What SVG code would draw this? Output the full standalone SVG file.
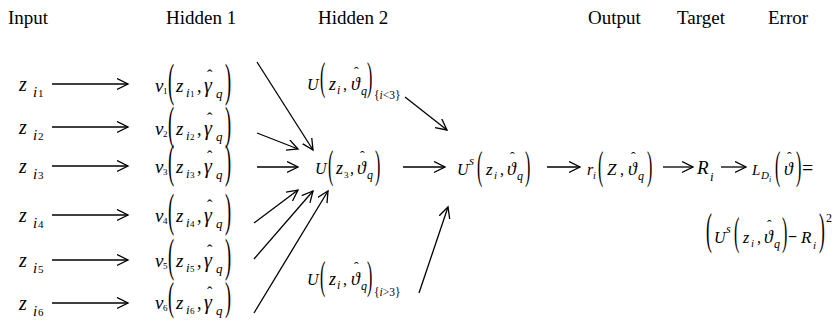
<svg xmlns="http://www.w3.org/2000/svg" width="835" height="321" viewBox="0 0 835 321" font-family="'Liberation Serif', 'DejaVu Serif', serif">
<defs>
<style>
text{font-family:'Liberation Serif','DejaVu Serif',serif;fill:#000}
.h{font-size:19px}
.m{font-style:italic}
.s{font-style:italic;font-size:13px}
.d{font-size:9px}
.pb{font-size:46px}
.pm{font-size:40px}
.c{stroke:#000;stroke-width:1.3;fill:none}
</style>
<marker id="ah" markerUnits="userSpaceOnUse" markerWidth="14" markerHeight="14" refX="11" refY="6" orient="auto">
<path d="M0,0.5 L11,6 L0,11.5" fill="none" stroke="#000" stroke-width="1.3"/>
</marker>
</defs>
<rect width="835" height="321" fill="#fff"/>
<g id="headers" class="h">
<text x="8" y="24">Input</text>
<text x="166" y="24">Hidden 1</text>
<text x="318" y="24">Hidden 2</text>
<text x="588" y="24">Output</text>
<text x="677" y="24">Target</text>
<text x="768" y="24">Error</text>
</g>
<g id="inputs">
<g id="in1" transform="translate(0,91)"><text x="19" class="m" font-size="20">z</text><text x="33" y="6" class="m" font-size="15">i</text><text x="38" y="6" font-size="11">1</text></g>
<g id="in2" transform="translate(0,134)"><text x="19" class="m" font-size="20">z</text><text x="33" y="6" class="m" font-size="15">i</text><text x="38" y="6" font-size="11">2</text></g>
<g id="in3" transform="translate(0,173)"><text x="19" class="m" font-size="20">z</text><text x="33" y="6" class="m" font-size="15">i</text><text x="38" y="6" font-size="11">3</text></g>
<g id="in4" transform="translate(0,222)"><text x="19" class="m" font-size="20">z</text><text x="33" y="6" class="m" font-size="15">i</text><text x="38" y="6" font-size="11">4</text></g>
<g id="in5" transform="translate(0,267)"><text x="19" class="m" font-size="20">z</text><text x="33" y="6" class="m" font-size="15">i</text><text x="38" y="6" font-size="11">5</text></g>
<g id="in6" transform="translate(0,310)"><text x="19" class="m" font-size="20">z</text><text x="33" y="6" class="m" font-size="15">i</text><text x="38" y="6" font-size="11">6</text></g>
</g>
<g id="hidden1">
<g id="v1" transform="translate(0,92)"><text x="155" class="m" font-size="19">v</text><text x="163" y="2" class="d">1</text><text class="pb" transform="translate(168,4) scale(0.4,1)">(</text><text x="176" class="m" font-size="19">z</text><text x="186" y="5" class="s">i</text><text x="190" y="5" class="d">1</text><text x="197" font-size="18">,</text><text x="204" class="m" font-size="20">γ</text><text x="207" y="-11" font-size="16">ˆ</text><text x="216" y="6" class="s">q</text><text class="pb" transform="translate(225,4) scale(0.4,1)">)</text></g>
<g id="v2" transform="translate(0,135)"><text x="155" class="m" font-size="19">v</text><text x="163" y="2" class="d">2</text><text class="pb" transform="translate(168,4) scale(0.4,1)">(</text><text x="176" class="m" font-size="19">z</text><text x="186" y="5" class="s">i</text><text x="190" y="5" class="d">2</text><text x="197" font-size="18">,</text><text x="204" class="m" font-size="20">γ</text><text x="207" y="-11" font-size="16">ˆ</text><text x="216" y="6" class="s">q</text><text class="pb" transform="translate(225,4) scale(0.4,1)">)</text></g>
<g id="v3" transform="translate(0,173)"><text x="155" class="m" font-size="19">v</text><text x="163" y="2" class="d">3</text><text class="pb" transform="translate(168,4) scale(0.4,1)">(</text><text x="176" class="m" font-size="19">z</text><text x="186" y="5" class="s">i</text><text x="190" y="5" class="d">3</text><text x="197" font-size="18">,</text><text x="204" class="m" font-size="20">γ</text><text x="207" y="-11" font-size="16">ˆ</text><text x="216" y="6" class="s">q</text><text class="pb" transform="translate(225,4) scale(0.4,1)">)</text></g>
<g id="v4" transform="translate(0,222)"><text x="155" class="m" font-size="19">v</text><text x="163" y="2" class="d">4</text><text class="pb" transform="translate(168,4) scale(0.4,1)">(</text><text x="176" class="m" font-size="19">z</text><text x="186" y="5" class="s">i</text><text x="190" y="5" class="d">4</text><text x="197" font-size="18">,</text><text x="204" class="m" font-size="20">γ</text><text x="207" y="-11" font-size="16">ˆ</text><text x="216" y="6" class="s">q</text><text class="pb" transform="translate(225,4) scale(0.4,1)">)</text></g>
<g id="v5" transform="translate(0,267)"><text x="155" class="m" font-size="19">v</text><text x="163" y="2" class="d">5</text><text class="pb" transform="translate(168,4) scale(0.4,1)">(</text><text x="176" class="m" font-size="19">z</text><text x="186" y="5" class="s">i</text><text x="190" y="5" class="d">5</text><text x="197" font-size="18">,</text><text x="204" class="m" font-size="20">γ</text><text x="207" y="-11" font-size="16">ˆ</text><text x="216" y="6" class="s">q</text><text class="pb" transform="translate(225,4) scale(0.4,1)">)</text></g>
<g id="v6" transform="translate(0,309)"><text x="155" class="m" font-size="19">v</text><text x="163" y="2" class="d">6</text><text font-size="40" transform="translate(168,1) scale(0.45,1)">(</text><text x="176" class="m" font-size="19">z</text><text x="186" y="5" class="s">i</text><text x="190" y="5" class="d">6</text><text x="197" font-size="18">,</text><text x="204" class="m" font-size="20">γ</text><text x="207" y="-11" font-size="16">ˆ</text><text x="216" y="6" class="s">q</text><text font-size="40" transform="translate(225,1) scale(0.45,1)">)</text></g>
</g>
<g id="hidden2">
<g id="u3" transform="translate(0,174)"><text x="315" class="m" font-size="16">U</text><text class="pm" transform="translate(328,3.5) scale(0.4,1)">(</text><text x="336" class="m" font-size="18">z</text><text x="344" y="4" class="d">3</text><text x="350" font-size="16">,</text><text x="357" class="m" font-size="18">ϑ</text><text x="360" y="-13" font-size="14">ˆ</text><text x="367" y="5" class="m" font-size="12">q</text><text class="pm" transform="translate(375,3.5) scale(0.4,1)">)</text></g>
<g id="ulow" transform="translate(0,90)"><text x="307" class="m" font-size="16">U</text><text class="pm" transform="translate(320,0) scale(0.4,1)">(</text><text x="329" class="m" font-size="18">z</text><text x="337" y="4" class="m" font-size="12">i</text><text x="343" font-size="16">,</text><text x="351" class="m" font-size="18">ϑ</text><text x="354" y="-13" font-size="14">ˆ</text><text x="361" y="5" class="m" font-size="12">q</text><text class="pm" transform="translate(367,0) scale(0.4,1)">)</text><text x="374" y="9" font-size="11.5" fill="#444">{<tspan font-style="italic">i</tspan>&lt;3}</text></g>
<g id="uhigh" transform="translate(0,285)"><text x="307" class="m" font-size="16">U</text><text class="pm" transform="translate(320,4) scale(0.4,1)">(</text><text x="329" class="m" font-size="18">z</text><text x="337" y="4" class="m" font-size="12">i</text><text x="343" font-size="16">,</text><text x="351" class="m" font-size="18">ϑ</text><text x="354" y="-13" font-size="14">ˆ</text><text x="361" y="5" class="m" font-size="12">q</text><text class="pm" transform="translate(367,4) scale(0.4,1)">)</text><text x="374" y="11" font-size="11.5" fill="#444">{<tspan font-style="italic">i</tspan>&gt;3}</text></g>
</g>
<g id="output">
<g id="us" transform="translate(0,175)"><text x="457" class="m" font-size="16">U</text><text x="469" y="-10" class="m" font-size="13">s</text><text class="pm" transform="translate(477,3.5) scale(0.4,1)">(</text><text x="486" class="m" font-size="17">z</text><text x="494" y="4" class="m" font-size="11">i</text><text x="500" font-size="16">,</text><text x="507" class="m" font-size="18">ϑ</text><text x="510" y="-13" font-size="14">ˆ</text><text x="517" y="5" class="m" font-size="12">q</text><text class="pm" transform="translate(525,3.5) scale(0.4,1)">)</text></g>
<g id="ri" transform="translate(0,175)"><text x="587" class="m" font-size="16">r</text><text x="593" y="4" class="m" font-size="10">i</text><text class="pm" transform="translate(598,3.5) scale(0.4,1)">(</text><text x="607" class="m" font-size="17">Z</text><text x="620" font-size="16">,</text><text x="628" class="m" font-size="18">ϑ</text><text x="631" y="-13" font-size="14">ˆ</text><text x="638" y="5" class="m" font-size="12">q</text><text class="pm" transform="translate(647,3.5) scale(0.4,1)">)</text></g>
</g>
<g id="target" transform="translate(0,174)"><text x="697" class="m" font-size="19">R</text><text x="710" y="7" class="m" font-size="13">i</text></g>
<g id="error">
<g id="ld" transform="translate(0,175)"><text x="752" class="m" font-size="15">L</text><text x="761" y="4" class="m" font-size="11">D</text><text x="769" y="7" class="m" font-size="8">i</text><text class="pm" transform="translate(775,3.5) scale(0.4,1)">(</text><text x="784" class="m" font-size="18">ϑ</text><text x="787" y="-13" font-size="14">ˆ</text><text class="pm" transform="translate(796,3.5) scale(0.4,1)">)</text><text x="802" font-size="20">=</text></g>
<g id="sq" transform="translate(0,243)"><text font-size="44" transform="translate(706,1) scale(0.4,1)">(</text><text x="714" class="m" font-size="16">U</text><text x="726" y="-10" class="m" font-size="12">s</text><text class="pm" transform="translate(734,2) scale(0.4,1)">(</text><text x="743" class="m" font-size="16">z</text><text x="751" y="4" class="m" font-size="11">i</text><text x="757" font-size="16">,</text><text x="764" class="m" font-size="18">ϑ</text><text x="767" y="-13" font-size="14">ˆ</text><text x="774" y="5" class="m" font-size="12">q</text><text class="pm" transform="translate(782,2) scale(0.4,1)">)</text><text x="788" y="-1" font-size="16" font-weight="bold">−</text><text x="801" class="m" font-size="17">R</text><text x="813" y="6" class="m" font-size="11">i</text><text font-size="44" transform="translate(819,1) scale(0.4,1)">)</text><text x="826" y="-21" font-size="12">2</text></g>
</g>
<g id="connectors" class="c" marker-end="url(#ah)">
<line x1="52" y1="84" x2="128" y2="84"/>
<line x1="52" y1="127" x2="128" y2="127"/>
<line x1="52" y1="166" x2="128" y2="166"/>
<line x1="52" y1="215" x2="128" y2="215"/>
<line x1="52" y1="260" x2="128" y2="260"/>
<line x1="52" y1="303" x2="128" y2="303"/>
<line x1="257" y1="62" x2="313" y2="150"/>
<line x1="257" y1="133" x2="298" y2="149"/>
<line x1="257" y1="167" x2="298" y2="167"/>
<line x1="254" y1="223" x2="298" y2="190"/>
<line x1="254" y1="259" x2="313" y2="191"/>
<line x1="254" y1="313" x2="328" y2="191"/>
<line x1="405" y1="97" x2="447" y2="130"/>
<line x1="419" y1="293" x2="448" y2="207"/>
<line x1="403" y1="167" x2="445" y2="167"/>
<line x1="547" y1="167" x2="580" y2="167"/>
<line x1="663" y1="167" x2="693" y2="167"/>
<line x1="721" y1="167" x2="746" y2="167"/>
</g>
</svg>
